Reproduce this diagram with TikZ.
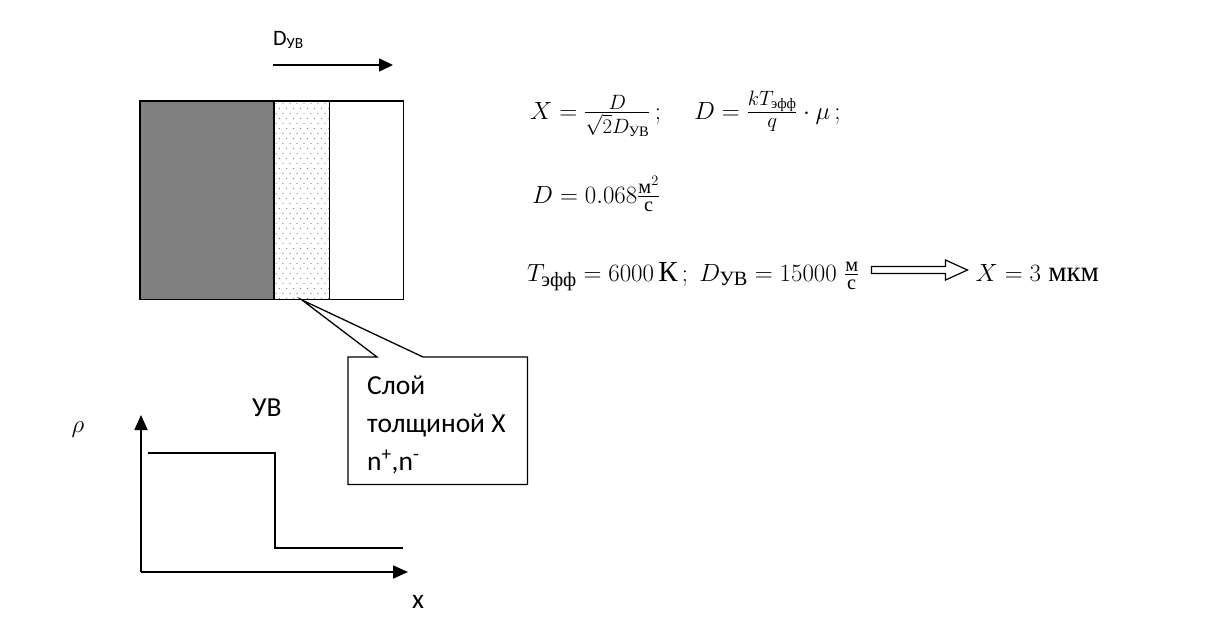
\documentclass[tikz,border=0pt]{standalone}
\usepackage{amsmath}
\usepackage{fontspec}
\newfontfamily\calib{Carlito}
\newfontfamily\cyrser{Liberation Serif}
\usetikzlibrary{arrows.meta,calc}
\begin{document}
\begin{tikzpicture}[x=1pt,y=-1pt,
  ln/.style={line width=1.8pt},
  axarrow/.style={line width=1.8pt,-{Triangle[length=15pt,width=13pt]}},
  lbl/.style={font=\calib\fontsize{27.5}{32}\selectfont, inner sep=0, anchor=base west},
  mth/.style={font=\cyrser\fontsize{29}{33}\selectfont, inner sep=0, anchor=base west},
  region/.style={inner sep=0, minimum height=198pt, anchor=north west},
]
\useasboundingbox (0,0) rectangle (1219,643);
\fill[white] (0,0) rectangle (1219,643);

% ---- layered block ----
\node[region, fill=gray, minimum width=134pt] (dark) at (140,101) {};
\node[region, minimum width=55pt] (dots) at (274,101) {};
\node[region, minimum width=74pt] (clear) at (329,101) {};
\begin{scope}
  \clip (dots.north west) rectangle (dots.south east);
  \foreach \r in {0,...,40} {
    \foreach \c in {0,...,8} {
      \fill[black!50] ({276+7*\c+3.5*mod(\r,2)}, {103.5+5*\r}) circle (0.6);
    }
  }
\end{scope}
\draw[ln] (dark.north west) rectangle (clear.south east);
\draw[ln] (dots.north west) -- (dots.south west);
\draw[ln] (dots.north east) -- (dots.south east);

% direction arrow
\coordinate (d0) at (273,65);
\coordinate (d1) at (393,65);
\draw[line width=1.6pt,-{Triangle[length=14pt,width=13pt]}] (d0) -- (d1);
\node[lbl, font=\calib\fontsize{22}{26}\selectfont] (dlab) at (273,45) {D\textsubscript{УВ}};

% ---- callout ----
\coordinate (tip) at (302,300);
\node[inner sep=0, minimum width=179pt, minimum height=127pt, anchor=north west] (cl) at (348,357) {};
\draw[line width=1.3pt, fill=white] (cl.north west) -- ($(cl.north west)+(29,0)$) -- (tip)
  -- ($(cl.north west)+(75,0)$) -- (cl.north east) -- (cl.south east) -- (cl.south west) -- cycle;
\node[lbl] (cl1) at (367,394) {Слой};
\node[lbl] (cl2) at (367,432) {толщиной X};
\node[lbl] (cl3) at (367,470) {n\textsuperscript{+},n\textsuperscript{-}};

% ---- graph ----
\coordinate (o) at (141,572);
\coordinate (ytip) at (141,415);
\coordinate (xtip) at (408,572);
\draw[axarrow] (o) -- (ytip);
\draw[axarrow] (o) -- (xtip);
\coordinate (s0) at (148,453);
\coordinate (s1) at (275,453);
\coordinate (s2) at (275,548);
\coordinate (s3) at (403,548);
\draw[ln] (s0) -- (s1) -- (s2) -- (s3);
\node[inner sep=0, font=\fontsize{28}{32}\selectfont] (rho) at (78,430) {$\rho$};
\node[lbl] (uv) at (252,416) {УВ};
\node[lbl] (xl) at (412,608) {x};

% ---- formulas ----
\node[mth] (r1) at (530,119)
  {$X = \tfrac{D}{\sqrt{2}D_{\text{УВ}}}\,;\quad D = \tfrac{kT_{\text{эфф}}}{q}\cdot\mu\,;$};
\node[mth] (r2) at (532,203) {$D = 0.068\tfrac{\text{м}^2}{\text{с}}$};
\node[mth] (r3a) at (527,281)
  {$T_{\text{эфф}} = 6000\,\text{К}\,;\ D_{\text{УВ}} = 15000\ \tfrac{\text{м}}{\text{с}}$};
\coordinate (a0) at ($(r3a.base east)+(12,-11)$);
\draw[line width=1.2pt] (a0) ++(0,-3.5) -- ++(74,0) -- ++(0,-6.5) -- ++(22,10) -- ++(-22,10)
  -- ++(0,-6.5) -- ++(-74,0) -- cycle;
\node[mth] (r3b) at ($(a0)+(104,11)$) {$X = 3\ \text{мкм}$};
\end{tikzpicture}
\end{document}
